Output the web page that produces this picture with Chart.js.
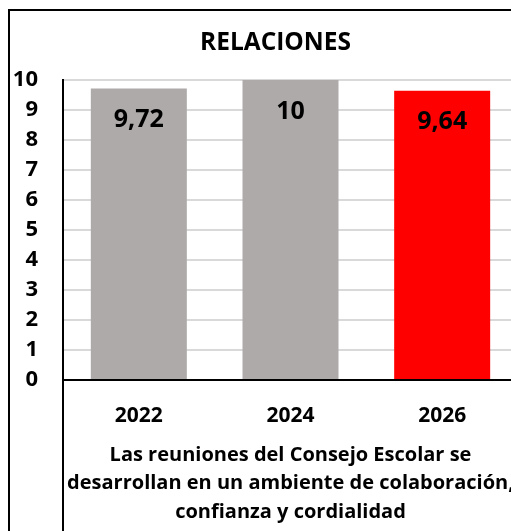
<!DOCTYPE html>
<html>
<head>
<meta charset="utf-8">
<script src="https://cdn.jsdelivr.net/npm/chart.js@4.4.0/dist/chart.umd.min.js"></script>
<style>
  html, body { margin: 0; padding: 0; background: #fff; overflow: hidden; width: 511px; height: 531px; }
  #frame { position: absolute; left: 8px; top: 9px; width: 531px; height: 560px; border: 2px solid #000; }
  #chart { display: block; }
</style>
</head>
<body>
<div id="frame"><canvas id="chart" width="531" height="520"></canvas></div>
<script>
  // chart data
  var chartTitle = "RELACIONES";
  var categories = ["2022", "2024", "2026"];
  var values = [9.72, 10, 9.64];
  var barColors = ["#AEAAAA", "#AEAAAA", "#FF0000"];
  var axisTitle = [
    "Las reuniones del Consejo Escolar se",
    "desarrollan en un ambiente de colaboración,",
    "confianza y cordialidad"
  ];
  var yMin = 0, yMax = 10, yStep = 1;

  Chart.defaults.font.family = '"Open Sans", "Noto Sans", sans-serif';
  Chart.defaults.color = "#000";

  function fmt(v) {
    return String(v).replace(".", ",");
  }

  // value labels inside the top of each bar
  var barLabels = {
    id: "barLabels",
    afterDatasetsDraw: function(chart) {
      var ctx = chart.ctx;
      var meta = chart.getDatasetMeta(0);
      ctx.save();
      ctx.font = 'bold 25px "Open Sans", sans-serif';
      ctx.fillStyle = "#000";
      ctx.textAlign = "center";
      ctx.textBaseline = "middle";
      meta.data.forEach(function(bar, i) {
        ctx.fillText(fmt(values[i]), bar.x, bar.y + 31.5);
      });
      ctx.restore();
    }
  };

  // title centred on the whole frame (built-in title would centre left of it)
  // plus the category divider line running down through the label area
  var frameDecor = {
    id: "frameDecor",
    afterDraw: function(chart) {
      var ctx = chart.ctx, area = chart.chartArea;
      ctx.save();
      ctx.font = 'bold 24.5px "Open Sans", sans-serif';
      ctx.fillStyle = "#000";
      ctx.textAlign = "center";
      ctx.textBaseline = "middle";
      ctx.fillText(chartTitle, chart.width / 2, area.top - 37);

      ctx.strokeStyle = "#000";
      ctx.lineWidth = 2;
      ctx.beginPath();
      ctx.moveTo(area.left, area.bottom);
      ctx.lineTo(area.left, chart.height);
      ctx.stroke();
      ctx.restore();
    }
  };

  new Chart(document.getElementById("chart"), {
    type: "bar",
    data: {
      labels: categories,
      datasets: [{
        data: values,
        backgroundColor: barColors,
        borderWidth: 0,
        categoryPercentage: 1,
        barPercentage: 0.633
      }]
    },
    options: {
      responsive: false,
      animation: false,
      layout: { padding: { left: 0, right: 23, top: 69, bottom: 0 } },
      plugins: {
        legend: { display: false },
        tooltip: { enabled: false },
        title: { display: false }
      },
      scales: {
        x: {
          afterFit: function(scale) { scale.height = 151; },
          grid: { display: false, drawTicks: false },
          border: { display: true, color: "#000", width: 2, z: 1 },
          ticks: { color: "#000", font: { size: 21, weight: "bold" }, padding: 23 },
          title: {
            display: true,
            text: axisTitle,
            color: "#000",
            font: { size: 20, weight: "bold", lineHeight: 1.425 },
            padding: { top: 0, bottom: 4.5 }
          }
        },
        y: {
          min: yMin,
          max: yMax,
          afterFit: function(scale) { scale.width = 53; },
          grid: { color: "#D9D9D9", lineWidth: 2, drawTicks: false },
          border: { display: true, color: "#000", width: 2, z: 1 },
          ticks: { stepSize: yStep, color: "#000", font: { size: 22, weight: "bold" }, padding: 25 }
        }
      }
    },
    plugins: [barLabels, frameDecor]
  });
</script>
</body>
</html>
